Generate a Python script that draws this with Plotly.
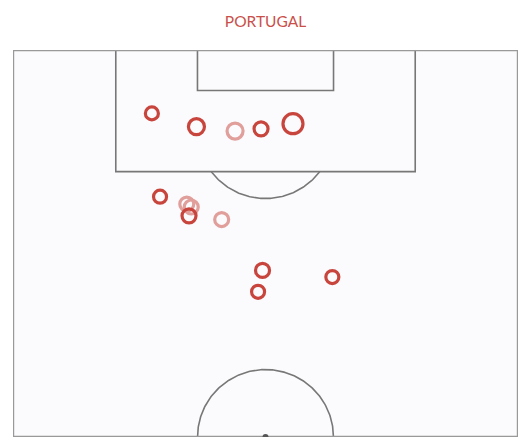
import numpy as np
import plotly.graph_objects as go

# pitch size in metres (half pitch, goal at top)
PITCH_W = 68.0
HALF_L = 52.5

# shot locations (x across the pitch, y distance from goal line), marker size, faded flag
shot_x = [18.7, 24.7, 29.9, 33.4, 37.7, 19.8, 23.4, 24.0, 23.7, 28.1, 33.6, 33.0, 43.0]
shot_y = [8.6, 10.4, 11.0, 10.7, 10.0, 19.9, 20.9, 21.3, 22.5, 23.0, 29.9, 32.8, 30.8]
shot_size = [13, 16, 16, 14, 20, 13, 14, 14, 14, 14, 14, 13, 13]
shot_faded = [0, 0, 1, 0, 0, 0, 1, 1, 0, 1, 0, 0, 0]

RED = "#c8453d"
LINE = "#777777"

fig = go.Figure()


def line(xs, ys, color=LINE, width=1.6):
    fig.add_trace(go.Scatter(x=xs, y=ys, mode="lines", hoverinfo="skip",
                             line=dict(color=color, width=width), showlegend=False))


# penalty box and six-yard box
bx0, bx1 = PITCH_W / 2 - 20.16, PITCH_W / 2 + 20.16
line([bx0, bx0, bx1, bx1], [0, 16.5, 16.5, 0])
sx0, sx1 = PITCH_W / 2 - 9.16, PITCH_W / 2 + 9.16
line([sx0, sx0, sx1, sx1], [0, 5.5, 5.5, 0])

# penalty arc outside the box
t = np.linspace(0, np.pi, 200)
ax = PITCH_W / 2 + 9.15 * np.cos(t)
ay = 11 + 9.15 * np.sin(t)
keep = ay >= 16.5
line(ax[keep], ay[keep])

# centre circle (half)
line(PITCH_W / 2 + 9.15 * np.cos(t), HALF_L - 9.15 * np.sin(t))

# outer border
line([0, 0, PITCH_W, PITCH_W, 0], [0, HALF_L, HALF_L, 0, 0], color="#999999", width=2.4)

# centre spot
fig.add_trace(go.Scatter(x=[PITCH_W / 2], y=[HALF_L], mode="markers", hoverinfo="skip",
                         marker=dict(color="#555", size=6), showlegend=False))

# shots (marker opacity set explicitly, array sizes default it to 0.7)
for faded in (1, 0):
    idx = [i for i, f in enumerate(shot_faded) if f == faded]
    fig.add_trace(go.Scatter(
        x=[shot_x[i] for i in idx], y=[shot_y[i] for i in idx], mode="markers",
        marker=dict(symbol="circle-open", size=[shot_size[i] for i in idx], opacity=1,
                    color=RED, line=dict(width=3.2, color=RED)),
        opacity=0.5 if faded else 1.0, showlegend=False))

fig.update_layout(
    width=530, height=440,
    margin=dict(l=5, r=20, t=42, b=11),
    paper_bgcolor="white", plot_bgcolor="#fbfbfd",
    title=dict(text="PORTUGAL", x=0.5, xref="paper", xanchor="center",
               y=1 - 14 / 440, yref="container", yanchor="middle",
               font=dict(family="Lato", size=15.5, color="#c9504a")),
    xaxis=dict(range=[0, PITCH_W], visible=False, fixedrange=True),
    yaxis=dict(range=[HALF_L, 0], visible=False, fixedrange=True),
)

fig.write_html("out.html")
